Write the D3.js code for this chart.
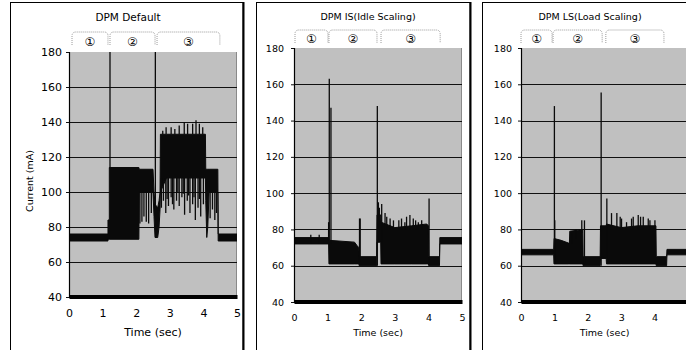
<!DOCTYPE html>
<html>
<head>
<meta charset="utf-8">
<script src="https://cdn.jsdelivr.net/npm/d3@7"></script>
<style>
  body { margin: 0; background: #fff; }
  svg { display: block; font-family: "DejaVu Sans", sans-serif; }
</style>
</head>
<body>
<svg id="chart" width="686" height="350"></svg>
<script>
// axis ticks
const xTicks = [0, 1, 2, 3, 4, 5];
const yTicks = [40, 60, 80, 100, 120, 140, 160, 180];
const gridValues = [60, 80, 100, 120, 140, 160];
const phaseLabels = ['\u2460', '\u2461', '\u2462'];

// DPM Default
const defaultPhaseStart = [0.09, 1.22, 2.62];
const defaultPhaseEnd = [1.16, 2.56, 4.49];
const defaultBandT  = [0, 1.16, 1.16, 1.2, 1.2, 2.08, 2.09, 2.5, 2.53, 2.56, 2.64, 2.68, 2.71, 2.72, 2.9, 4.06, 4.07, 4.1, 4.13, 4.17, 4.43, 4.44, 5];
const defaultBandLo = [72, 72, 73, 73, 73, 73, 100, 100, 86, 74, 74, 80, 90, 100, 108, 108, 95, 74, 80, 100, 100, 72, 72];
const defaultBandHi = [76, 76, 84, 84, 114, 114, 113, 113, 100, 93, 91, 95, 100, 133, 133, 133, 113, 113, 113, 113, 113, 76, 76];
const defaultSpikeT    = [1.22, 2.57, 2.11, 2.17, 2.23, 2.3, 2.37, 2.45, 2.75, 2.81, 2.88, 2.92, 2.96, 3.04, 3.08, 3.12, 3.2, 3.24, 3.28, 3.36, 3.4, 3.44, 3.52, 3.56, 3.6, 3.68, 3.72, 3.76, 3.84, 3.88, 3.92, 4.0, 4.2, 4.27, 4.34, 4.39, 2.79, 2.89, 3.04, 3.15, 3.28, 3.43, 3.53, 3.68, 3.78, 3.88, 3.98];
const defaultSpikeFrom = [113, 90, 100, 100, 100, 100, 100, 100, 108, 108, 108, 108, 108, 108, 108, 108, 108, 108, 108, 108, 108, 108, 108, 108, 108, 108, 108, 108, 108, 108, 108, 108, 100, 100, 100, 100, 133, 133, 133, 133, 133, 133, 133, 133, 133, 133, 133];
const defaultSpikeTo   = [190, 190, 82, 83, 86, 83, 82, 88, 91, 95, 88, 96, 92, 97, 93, 90, 95, 100, 92, 97, 99, 87, 95, 98, 88, 93, 97, 84, 91, 96, 86, 93, 85, 90, 84, 88, 135, 137, 137, 136, 138, 140, 139, 139, 141, 139, 137];

// DPM IS (Idle Scaling)
const idlePhaseStart = [0.03, 1.04, 2.59];
const idlePhaseEnd = [1.01, 2.47, 4.35];
const idleBandT  = [0, 1.03, 1.04, 1.8, 1.88, 1.93, 1.94, 2.46, 2.47, 2.58, 2.59, 3.0, 3.5, 3.95, 4.0, 4.01, 4.33, 4.34, 5];
const idleBandLo = [72, 72, 61, 61, 61, 61, 60, 60, 73, 73, 61, 61, 61, 61, 61, 60, 60, 72, 72];
const idleBandHi = [75.5, 75.5, 74, 73, 71, 70, 65, 65, 88, 88, 84, 81, 82, 83, 82, 65, 65, 75.5, 75.5];
const idleSpikeT    = [0.5, 0.75, 1.03, 1.05, 1.1, 1.95, 1.97, 2.48, 2.51, 2.54, 2.61, 2.71, 2.76, 2.86, 2.96, 3.12, 3.2, 3.3, 3.35, 3.45, 3.55, 3.62, 3.7, 3.8, 4.02];
const idleSpikeFrom = [72, 72, 74, 74, 72, 62, 62, 60, 73, 73, 61, 80, 80, 80, 80, 80, 80, 80, 80, 80, 80, 80, 80, 80, 61];
const idleSpikeTo   = [77, 77, 84, 163, 147, 86, 86, 148, 95, 92, 94, 89, 87, 86, 85, 85, 86, 84, 87, 88, 86, 85, 84, 85, 97];

// DPM LS (Load Scaling)
const loadPhaseStart = [0, 0.96, 2.54];
const loadPhaseEnd = [0.93, 2.43, 4.28];
const loadBandT  = [0, 0.98, 0.99, 1.2, 1.42, 1.45, 1.46, 1.85, 1.86, 2.37, 2.38, 2.55, 2.56, 3.0, 3.5, 4.04, 4.05, 4.36, 4.37, 5];
const loadBandLo = [66, 66, 61, 61, 61, 61, 61, 61, 60, 60, 64, 64, 61, 61, 61, 61, 60, 60, 66, 66];
const loadBandHi = [69, 69, 75, 74, 72.5, 72.5, 79, 80, 65, 65, 82, 82, 83, 81, 82, 82, 65, 65, 69, 69];
const loadSpikeT    = [1.0, 1.01, 1.52, 1.65, 1.82, 1.9, 2.4, 2.57, 2.71, 2.87, 2.97, 3.01, 3.16, 3.31, 3.36, 3.51, 3.58, 3.66, 3.81, 3.86, 4.01];
const loadSpikeFrom = [61, 61, 72, 75, 78, 61, 60, 64, 80, 80, 80, 80, 80, 80, 80, 80, 80, 80, 80, 80, 80];
const loadSpikeTo   = [148, 85, 78, 80, 85, 85, 155.5, 97, 89, 89, 87, 86, 84, 86, 87, 88, 87, 87, 86, 85, 85];

const panels = [
  {title: 'DPM Default', titleX: 128, titleY: 18, titleSize: 10.5,
   box: [10.5, 243], plot: {x0: 69, x1: 237, y0: 52, y1: 297},
   tickSize: 11, yPad: 4, bracketTop: 32, bracketBottom: 45, numY: 42, labelY: 333, yLabel: true,
   phaseStart: defaultPhaseStart, phaseEnd: defaultPhaseEnd,
   bandT: defaultBandT, bandLo: defaultBandLo, bandHi: defaultBandHi,
   spikeT: defaultSpikeT, spikeFrom: defaultSpikeFrom, spikeTo: defaultSpikeTo},
  {title: 'DPM IS(Idle Scaling)', titleX: 368, titleY: 17, titleSize: 9.5,
   box: [256.5, 470], plot: {x0: 294, x1: 462, y0: 48, y1: 302},
   tickSize: 9.5, yPad: 7, bracketTop: 30, bracketBottom: 43, numY: 39, labelY: 333, yLabel: false,
   phaseStart: idlePhaseStart, phaseEnd: idlePhaseEnd,
   bandT: idleBandT, bandLo: idleBandLo, bandHi: idleBandHi,
   spikeT: idleSpikeT, spikeFrom: idleSpikeFrom, spikeTo: idleSpikeTo},
  {title: 'DPM LS(Load Scaling)', titleX: 590, titleY: 17, titleSize: 9.5,
   box: [482.5, 700], plot: {x0: 521, x1: 688, y0: 48, y1: 302},
   tickSize: 9.5, yPad: 6, bracketTop: 30, bracketBottom: 43, numY: 39, labelY: 333, yLabel: false,
   phaseStart: loadPhaseStart, phaseEnd: loadPhaseEnd,
   bandT: loadBandT, bandLo: loadBandLo, bandHi: loadBandHi,
   spikeT: loadSpikeT, spikeFrom: loadSpikeFrom, spikeTo: loadSpikeTo}
];

const svg = d3.select('#chart');
const chartWidth = 686;

panels.forEach((p, pi) => drawPanel(p, pi));

function drawPanel(p, pi) {
  const g = svg.append('g');
  const x = d3.scaleLinear().domain([0, 5]).range([p.plot.x0, p.plot.x1]);
  const y = d3.scaleLinear().domain([40, 180]).range([p.plot.y1, p.plot.y0]);

  // frame with a heavier right edge
  g.append('rect')
    .attr('x', p.box[0]).attr('y', 2.5)
    .attr('width', p.box[1] - p.box[0]).attr('height', 400)
    .attr('fill', '#fff').attr('stroke', '#000').attr('stroke-width', 1);
  g.append('line')
    .attr('x1', p.box[1] + 0.5).attr('x2', p.box[1] + 0.5)
    .attr('y1', 2).attr('y2', 350)
    .attr('stroke', '#000').attr('stroke-width', 2);

  g.append('text')
    .attr('x', p.titleX).attr('y', p.titleY)
    .attr('text-anchor', 'middle').attr('dominant-baseline', 'middle')
    .style('font-size', p.titleSize + 'px')
    .text(p.title);

  // phase brackets
  const r = 4;
  p.phaseStart.forEach((s, i) => {
    const xa = x(s), xb = x(p.phaseEnd[i]);
    const t = p.bracketTop, b = p.bracketBottom;
    g.append('path')
      .attr('d', `M${xa},${b} L${xa},${t + r} Q${xa},${t} ${xa + r},${t} L${xb - r},${t} Q${xb},${t} ${xb},${t + r} L${xb},${b}`)
      .attr('fill', 'none').attr('stroke', '#9a9a9a')
      .attr('stroke-width', 1).attr('stroke-dasharray', '1,1');
    g.append('text')
      .attr('x', (xa + xb) / 2).attr('y', p.numY)
      .attr('text-anchor', 'middle').attr('dominant-baseline', 'middle')
      .attr('fill', '#000')
      .style('font-family', '"DejaVu Sans", "Noto Sans CJK KR", sans-serif')
      .style('font-size', '12px')
      .text(phaseLabels[i]);
  });

  // plot background
  g.append('rect')
    .attr('x', p.plot.x0).attr('y', p.plot.y0)
    .attr('width', p.plot.x1 - p.plot.x0).attr('height', p.plot.y1 - p.plot.y0)
    .attr('fill', '#c0c0c0');
  g.append('line')
    .attr('x1', p.plot.x1 - 0.5).attr('x2', p.plot.x1 - 0.5)
    .attr('y1', p.plot.y0).attr('y2', p.plot.y1)
    .attr('stroke', '#8a8a8a');

  g.selectAll('.grid')
    .data(gridValues)
    .enter()
    .append('line')
    .attr('x1', p.plot.x0).attr('x2', p.plot.x1)
    .attr('y1', d => Math.round(y(d)) + 0.5).attr('y2', d => Math.round(y(d)) + 0.5)
    .attr('stroke', '#111').attr('stroke-width', 1);

  // current trace
  const clipId = 'clip' + pi;
  svg.append('clipPath').attr('id', clipId)
    .append('rect')
    .attr('x', p.plot.x0).attr('y', p.plot.y0)
    .attr('width', p.plot.x1 - p.plot.x0).attr('height', p.plot.y1 - p.plot.y0);
  const trace = g.append('g').attr('clip-path', `url(#${clipId})`);

  const band = p.bandT.map((t, i) => ({t: t, lo: p.bandLo[i], hi: p.bandHi[i]}));
  const area = d3.area()
    .x(d => x(d.t))
    .y0(d => y(d.lo))
    .y1(d => y(d.hi));
  trace.append('path')
    .datum(band)
    .attr('d', area)
    .attr('fill', '#0a0a0a')
    .attr('stroke', '#0a0a0a').attr('stroke-width', 1);

  const spikes = p.spikeT.map((t, i) => ({t: t, from: p.spikeFrom[i], to: p.spikeTo[i]}));
  trace.selectAll('.spike')
    .data(spikes)
    .enter()
    .append('line')
    .attr('x1', d => x(d.t)).attr('x2', d => x(d.t))
    .attr('y1', d => y(d.from)).attr('y2', d => y(d.to))
    .attr('stroke', '#0a0a0a').attr('stroke-width', 1.3);

  // Y axis
  const yAxis = g.append('g')
    .attr('transform', `translate(${p.plot.x0},0)`)
    .call(d3.axisLeft(y).tickValues(yTicks).tickSize(3).tickPadding(p.yPad));
  yAxis.select('.domain').attr('stroke', '#000').attr('stroke-width', 1.2);
  yAxis.selectAll('.tick line').attr('stroke', '#111');
  yAxis.selectAll('text')
    .style('font-family', '"DejaVu Sans", sans-serif')
    .style('font-size', p.tickSize + 'px').attr('fill', '#000');

  // X axis, drawn as the heavy floor line at 40; labels past the page edge are left out
  const shownX = xTicks.filter(t => x(t) + 3 <= chartWidth);
  const xAxis = g.append('g')
    .attr('transform', `translate(0,${y(40) - 0.5})`)
    .call(d3.axisBottom(x).tickValues(shownX).tickFormat(d3.format('d'))
      .tickSize(0).tickSizeOuter(0).tickPadding(13));
  xAxis.select('.domain').attr('stroke', '#000').attr('stroke-width', 4);
  xAxis.selectAll('text')
    .style('font-family', '"DejaVu Sans", sans-serif')
    .style('font-size', p.tickSize + 'px').attr('fill', '#000');

  g.append('text')
    .attr('x', (p.plot.x0 + p.plot.x1) / 2).attr('y', p.labelY)
    .attr('text-anchor', 'middle').attr('dominant-baseline', 'middle')
    .style('font-size', p.tickSize + 'px')
    .text('Time (sec)');

  if (p.yLabel) {
    g.append('text')
      .attr('transform', 'translate(30,181) rotate(-90)')
      .attr('text-anchor', 'middle').attr('dominant-baseline', 'middle')
      .style('font-size', '9.5px')
      .text('Current (mA)');
  }
}
</script>
</body>
</html>
